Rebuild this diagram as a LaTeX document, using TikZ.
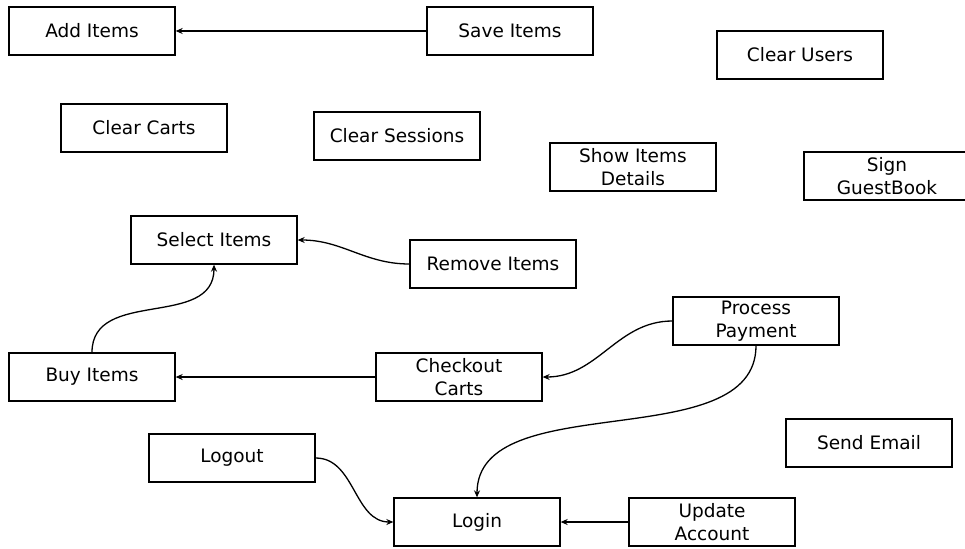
\documentclass[tikz,border=0pt]{standalone}
\usepackage{fontspec}
\setmainfont{DejaVu Sans}
\usetikzlibrary{arrows.meta}
\begin{document}
\begin{tikzpicture}[x=1pt,y=-1pt,
  box/.style={draw,line width=1.3pt,minimum width=166pt,minimum height=48pt,inner sep=0pt,align=center,font=\fontsize{18.5}{23}\selectfont},
  conn/.style={line width=1.3pt,-{Stealth[length=7pt,width=6pt]}}]
\useasboundingbox (0,0) rectangle (965,548);
\node[box] (add) at (92,31) {Add Items};
\node[box] (save) at (510,31) {Save Items};
\node[box] (users) at (800,55) {Clear Users};
\node[box] (carts) at (144,128) {Clear Carts};
\node[box] (sess) at (397,136) {Clear Sessions};
\node[box] (show) at (633,167) {Show Items\\Details};
\node[box] (sign) at (887,176) {Sign\\GuestBook};
\node[box] (select) at (214,240) {Select Items};
\node[box] (remove) at (493,264) {Remove Items};
\node[box] (pay) at (756,321) {Process\\Payment};
\node[box] (buy) at (92,377) {Buy Items};
\node[box] (check) at (459,377) {Checkout\\Carts};
\node[box] (email) at (869,443) {Send Email};
\node[box] (logout) at (232,458) {Logout};
\node[box] (login) at (477,522) {Login};
\node[box] (update) at (712,522) {Update\\Account};
\draw[conn] (save) -- (add);
\draw[conn] (check) -- (buy);
\draw[conn] (update) -- (login);
\draw[conn] (remove.west) to[out=180,in=0] (select.east);
\draw[conn] (buy.north) to[out=90,in=-90,looseness=1.1] (select.south);
\draw[conn] (pay.west) to[out=180,in=0] (check.east);
\draw[conn] (pay.south) to[out=-90,in=90,looseness=0.9] (login.north);
\draw[conn] (logout.east) to[out=0,in=180] (login.west);
\end{tikzpicture}
\end{document}
